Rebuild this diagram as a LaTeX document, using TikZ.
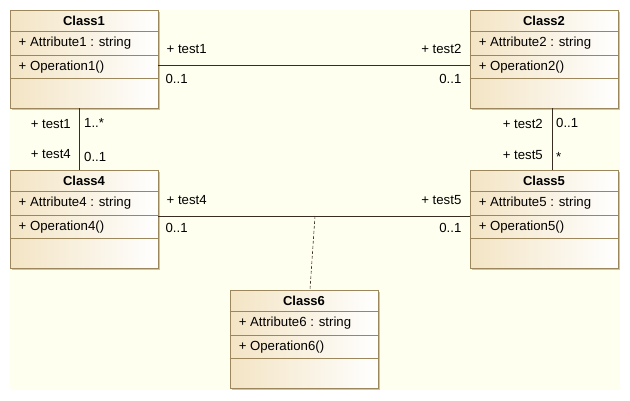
\documentclass[tikz,border=0pt]{standalone}
\usepackage{fontspec}
\setmainfont{Liberation Sans}
\usetikzlibrary{calc,shadows,positioning}

\definecolor{classborder}{RGB}{156,135,92}
\definecolor{classfill}{RGB}{243,228,196}
\definecolor{classshadow}{RGB}{208,196,166}
\definecolor{diagbg}{RGB}{255,255,240}
\definecolor{assocline}{RGB}{55,45,35}

\begin{document}
\begin{tikzpicture}[x=1pt, y=-1pt, font=\fontsize{13.2}{15}\selectfont,
  classbox/.style={draw=classborder, line width=0.9pt, left color=classfill, right color=white,
    minimum width=148pt, minimum height=98pt, inner sep=0pt,
    drop shadow={shadow xshift=2pt, shadow yshift=-2pt, fill=classshadow, opacity=1}},
  classsep/.style={draw=classborder, line width=0.8pt},
  classtitle/.style={font=\fontsize{13}{15}\selectfont\bfseries, inner sep=0pt},
  member/.style={anchor=west, inner sep=0pt},
  role/.style={inner sep=0pt},
  assoc/.style={draw=assocline, line width=0.8pt}]
  \useasboundingbox (0,0) rectangle (630,400);
  \fill[diagbg] (10,10) rectangle (620,390);
  % classes
  \foreach \i/\x/\y in {1/10/10, 2/470/10, 4/10/170, 5/470/170, 6/230/290} {
    \node[classbox] (c\i) at (\x+74,\y+49) {};
    \draw[classsep] ($(c\i.north west)+(0,22)$) -- ($(c\i.north east)+(0,22)$);
    \draw[classsep] ($(c\i.north west)+(0,46)$) -- ($(c\i.north east)+(0,46)$);
    \draw[classsep] ($(c\i.north west)+(0,69)$) -- ($(c\i.north east)+(0,69)$);
    \node[classtitle] (h\i) at ($(c\i.north)+(0,11)$) {Class\i};
    \node[member] (a\i) at ($(c\i.north west)+(9,33.5)$) {+ Attribute\i{} : string};
    \node[member] (o\i) at ($(c\i.north west)+(9,57.5)$) {+ Operation\i()};
  }
  % Class1 -- Class2
  \coordinate (l12) at ($(c1.east)+(0,6)$);
  \draw[assoc] (l12) -- (l12 -| c2.west);
  \node[role, anchor=west] (r12a) at ($(c1.east)+(8,-10)$) {+ test1};
  \node[role, anchor=west] (m12a) at ($(c1.east)+(7,20)$) {0..1};
  \node[role, anchor=east] (r12b) at ($(c2.west)+(-8,-10)$) {+ test2};
  \node[role, anchor=east] (m12b) at ($(c2.west)+(-8,20)$) {0..1};
  % Class1 -- Class4
  \coordinate (l14) at ($(c1.south)+(-5,0)$);
  \draw[assoc] (l14) -- (l14 |- c4.north);
  \node[role, anchor=east] (r14a) at ($(l14)+(-8,16)$) {+ test1};
  \node[role, anchor=west] (m14a) at ($(l14)+(5,15)$) {1..*};
  \node[role, anchor=east] (r14b) at ($(l14 |- c4.north)+(-8,-16)$) {+ test4};
  \node[role, anchor=west] (m14b) at ($(l14 |- c4.north)+(5,-13)$) {0..1};
  % Class2 -- Class5
  \coordinate (l25) at ($(c2.south)+(8,0)$);
  \draw[assoc] (l25) -- (l25 |- c5.north);
  \node[role, anchor=east] (r25a) at ($(l25)+(-9,16)$) {+ test2};
  \node[role, anchor=west] (m25a) at ($(l25)+(4,15)$) {0..1};
  \node[role, anchor=east] (r25b) at ($(l25 |- c5.north)+(-9,-15)$) {+ test5};
  \node[role, anchor=west] (m25b) at ($(l25 |- c5.north)+(4,-13)$) {*};
  % Class4 -- Class5
  \coordinate (l45) at ($(c4.east)+(0,-3)$);
  \draw[assoc] (l45) -- (l45 -| c5.west);
  \node[role, anchor=west] (r45a) at ($(c4.east)+(8,-19)$) {+ test4};
  \node[role, anchor=west] (m45a) at ($(c4.east)+(7,9)$) {0..1};
  \node[role, anchor=east] (r45b) at ($(c5.west)+(-8,-19)$) {+ test5};
  \node[role, anchor=east] (m45b) at ($(c5.west)+(-8,9)$) {0..1};
  % Class6 on the association
  \coordinate (l6) at ($(l45 -| c6.north)+(11,0)$);
  \draw[assoc, line width=0.6pt, dash pattern=on 3pt off 2pt] (l6) -- ($(c6.north)+(6,0)$);
\end{tikzpicture}
\end{document}
